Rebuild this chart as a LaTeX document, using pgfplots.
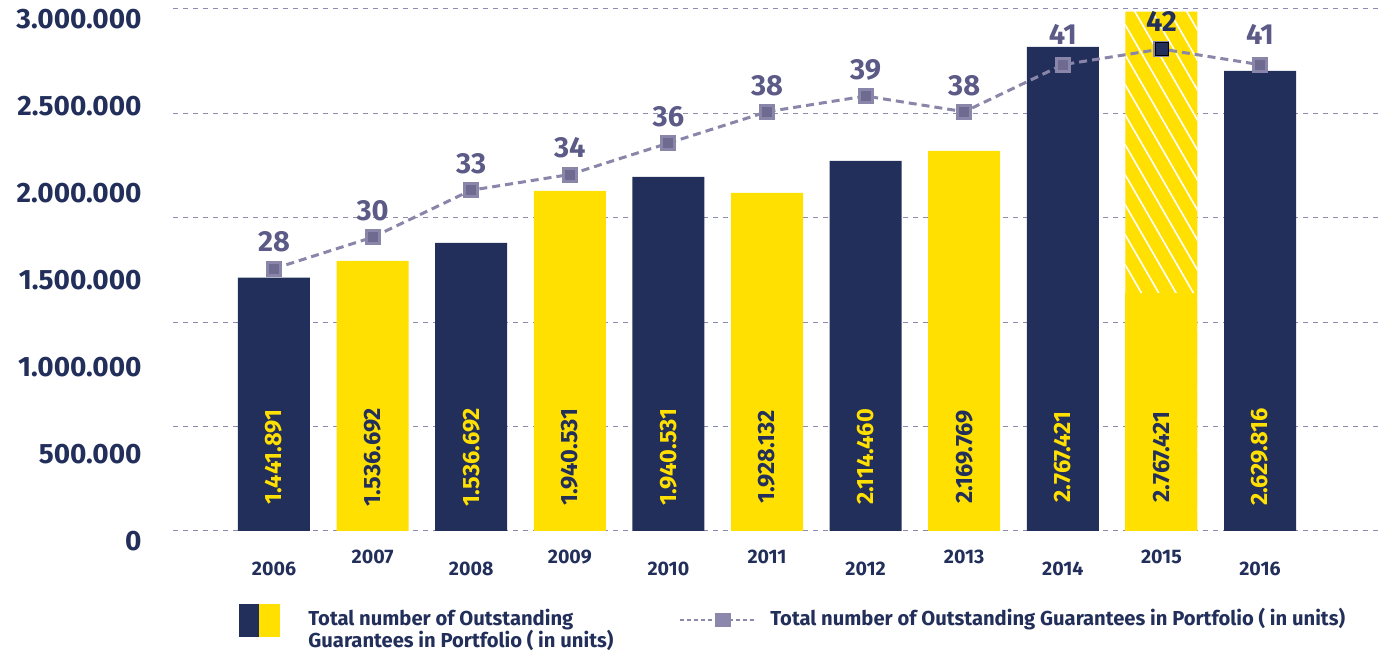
\documentclass[border=0pt]{standalone}
\usepackage{fontspec}
\setmainfont{Fira Sans}
\usepackage{pgfplots}
\pgfplotsset{compat=1.18}
\usetikzlibrary{patterns.meta}
\definecolor{navy}{HTML}{232F5B}
\definecolor{yel}{HTML}{FFE000}
\definecolor{gridc}{HTML}{8E8AB0}
\definecolor{linec}{HTML}{8A86AA}
\definecolor{markc}{HTML}{6E6A90}
\definecolor{lblc}{HTML}{5C5A86}
\definecolor{legmark}{HTML}{8C88AB}
\begin{document}
\begin{tikzpicture}[x=1pt,y=1pt]
\useasboundingbox (0,0) rectangle (690,328);
\begin{axis}[
  at={(86.5pt,62.5pt)}, anchor=south west, scale only axis,
  width=603.5pt, height=261pt,
  xmin=-1.0243, xmax=11.217, ymin=0, ymax=3000000,
  axis line style={draw=none}, major tick length=0pt, minor tick length=0pt,
  ytick={0,500000,1000000,1500000,2000000,2500000,3000000},
  yticklabels={0,500.000,1.000.000,1.500.000,2.000.000,2.500.000,3.000.000},
  scaled y ticks=false,
  minor ytick={0,600000,1200000,1800000,2400000,3000000},
  yminorgrids=true, ymajorgrids=false,
  minor grid style={gridc, line width=0.5pt, dash pattern=on 2.5pt off 2.5pt},
  yticklabel style={font=\fontsize{14}{16}\selectfont\bfseries, text=navy, anchor=east, inner sep=0pt, xshift=-15.5pt, yshift=-5pt},
  xtick={0,2,4,6,8,10}, xticklabels={2006,2008,2010,2012,2014,2016},
  extra x ticks={1,3,5,7,9}, extra x tick labels={2007,2009,2011,2013,2015},
  extra x tick style={xticklabel style={yshift=5.85pt}},
  xticklabel style={font=\fontsize{9.8}{11}\selectfont\bfseries, text=navy, anchor=north, inner sep=0pt, yshift=-15.35pt},
  clip=false,
]
\addplot[ybar, bar width=36pt, bar shift=0pt, fill=navy, draw=none] coordinates {(0,1455700) (2,1655200) (4,2034500) (6,2126400) (8,2781600) (10,2643700)};
\addplot[ybar, bar width=36pt, bar shift=0pt, fill=yel, draw=none] coordinates {(1,1551700) (3,1954000) (5,1942500) (7,2183900) (9,2984500)};
\addplot[ybar, bar width=36pt, bar shift=0pt, draw=none, pattern={Lines[angle=-60,distance=7.5pt,line width=0.8pt]}, pattern color=white] coordinates {(9,2984500)};
\addplot[ybar, bar width=36pt, bar shift=0pt, fill=yel, draw=none] coordinates {(9,1367800)};
\addplot[draw=none, nodes near coords, point meta=explicit symbolic, nodes near coords style={rotate=90, anchor=center, inner sep=0pt, font=\fontsize{11.8}{12}\selectfont\bfseries, text=yel}] coordinates {(0,425300)[1.441.891] (2,425300)[1.536.692] (4,425300)[1.940.531] (6,425300)[2.114.460] (8,425300)[2.767.421] (10,425300)[2.629.816]};
\addplot[draw=none, nodes near coords, point meta=explicit symbolic, nodes near coords style={rotate=90, anchor=center, inner sep=0pt, font=\fontsize{11.8}{12}\selectfont\bfseries, text=navy}] coordinates {(1,425300)[1.536.692] (3,425300)[1.940.531] (5,425300)[1.928.132] (7,425300)[2.169.769] (9,425300)[2.767.421]};
\end{axis}
\begin{axis}[
  at={(86.5pt,62.5pt)}, anchor=south west, scale only axis,
  width=603.5pt, height=261pt,
  xmin=-1.0243, xmax=11.217, ymin=11.28, ymax=44.55,
  hide axis, clip=false,
]
\addplot[linec, line width=1.5pt, dash pattern=on 4pt off 2.5pt, mark=square*, mark size=3.25pt, mark options={solid, fill=markc, draw=none}, nodes near coords, point meta=explicit symbolic, nodes near coords style={anchor=south, inner sep=0pt, yshift=7.35pt, font=\fontsize{14.5}{16}\selectfont\bfseries, text=lblc}] coordinates {(0,28)[28] (1,30)[30] (2,33)[33] (3,34)[34] (4,36)[36] (5,38)[38] (6,39)[39] (7,38)[38] (8,41)[\phantom{41}] (9,42)[\phantom{42}] (10,41)[\phantom{41}]};
\addplot[draw=none, nodes near coords, point meta=explicit symbolic, nodes near coords style={anchor=south, inner sep=0pt, yshift=9.8pt, font=\fontsize{14.5}{16}\selectfont\bfseries, text=lblc}] coordinates {(8,41)[41] (10,41)[41]};
\addplot[only marks, mark=square*, mark size=3.25pt, mark options={fill=navy, draw=none}, nodes near coords, point meta=explicit symbolic, nodes near coords style={anchor=south, inner sep=0pt, yshift=8.6pt, font=\fontsize{14.5}{16}\selectfont\bfseries, text=navy}] coordinates {(9,42)[42]};
\end{axis}
\fill[navy] (119.5,9.5) rectangle (129.5,26);
\fill[yel] (129.5,9.5) rectangle (140,26);
\node[anchor=base west, inner sep=0pt, font=\fontsize{10.1}{11}\selectfont\bfseries, text=navy] at (154,15) {Total number of Outstanding};
\node[anchor=base west, inner sep=0pt, font=\fontsize{10.1}{11}\selectfont\bfseries, text=navy] at (154,4) {Guarantees in Portfolio ( in units)};
\draw[legmark, line width=0.6pt, dash pattern=on 2pt off 1.5pt] (340,18) -- (378.5,18);
\fill[legmark] (357.5,14.5) rectangle (365.5,21.5);
\node[anchor=base west, inner sep=0pt, font=\fontsize{10.1}{11}\selectfont\bfseries, text=navy] at (385,15) {Total number of Outstanding Guarantees in Portfolio ( in units)};
\end{tikzpicture}
\end{document}
